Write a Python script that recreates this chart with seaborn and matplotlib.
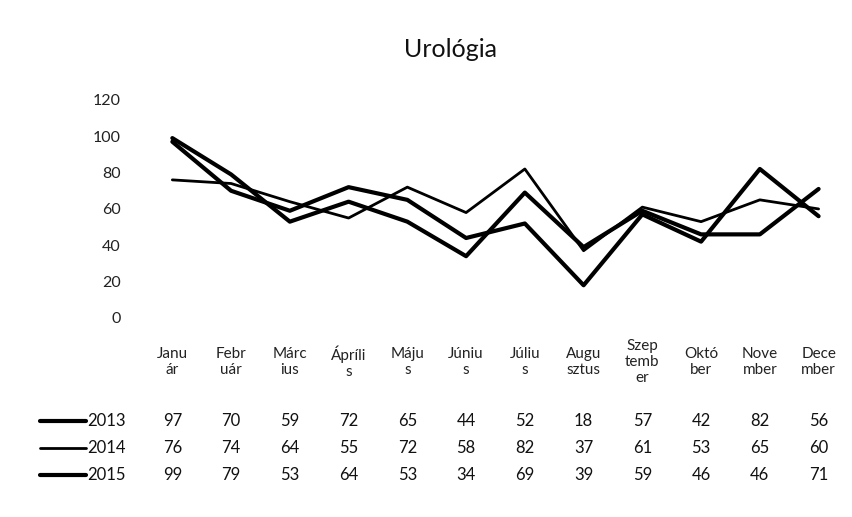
import matplotlib
matplotlib.use("Agg")
import matplotlib.pyplot as plt
import matplotlib.transforms as mtransforms
import seaborn as sns
import pandas as pd

months = ["Január", "Február", "Március", "Április", "Május", "Június",
          "Július", "Augusztus", "Szeptember", "Október", "November", "December"]
month_labels = ["Janu\nár", "Febr\nuár", "Márc\nius", "Ápríli\ns", "Máju\ns", "Júniu\ns",
                "Júliu\ns", "Augu\nsztus", "Szep\ntemb\ner", "Októ\nber", "Nove\nmber", "Dece\nmber"]
series_names = ["2013", "2014", "2015"]
v2013 = [97, 70, 59, 72, 65, 44, 52, 18, 57, 42, 82, 56]
v2014 = [76, 74, 64, 55, 72, 58, 82, 37, 61, 53, 65, 60]
v2015 = [99, 79, 53, 64, 53, 34, 69, 39, 59, 46, 46, 71]
y_ticks = [0, 20, 40, 60, 80, 100, 120]
title = "Urológia"

values = [v2013, v2014, v2015]
widths = [3.0, 2.0, 3.0]

sns.set_theme(style="white")
plt.rcParams['font.family'] = ['Lato', 'DejaVu Sans']

rows = []
for name, vals in zip(series_names, values):
    for i, (m, v) in enumerate(zip(months, vals)):
        rows.append({"pos": i, "month": m, "year": name, "value": v})
df = pd.DataFrame(rows)

fig = plt.figure(figsize=(8.53, 5.17), dpi=100)
ax = fig.add_axes([0.1676, 0.385, 0.8265, 0.4217])

for name, lw in zip(series_names, widths):
    sns.lineplot(data=df[df["year"] == name], x="pos", y="value", ax=ax,
                 color="black", linewidth=lw, legend=False)

ax.set_xlim(-0.5, len(months) - 0.5)
ax.set_ylim(0, 120)
ax.set_yticks(y_ticks)
ax.set_yticklabels([str(t) for t in y_ticks], fontsize=11.5, color="#222222")
ax.tick_params(axis='y', length=0, pad=16)
ax.set_xticks([])
ax.set_xlabel("")
ax.set_ylabel("")
for s in ax.spines.values():
    s.set_visible(False)

fig.text(0.528, 0.905, title, ha="center", va="center", fontsize=18, color="#111111")

# data table
blend = mtransforms.blended_transform_factory(ax.transData, fig.transFigure)
label_y = 1 - 362 / 517
for i, lab in enumerate(month_labels):
    ax.text(i, label_y, lab, transform=blend, ha="center", va="center",
            fontsize=11, color="#222222", linespacing=1.2)

row_ys = [1 - 421 / 517, 1 - 448 / 517, 1 - 475 / 517]
for name, vals, lw, ry in zip(series_names, values, widths, row_ys):
    for i, v in enumerate(vals):
        ax.text(i, ry, str(v), transform=blend, ha="center", va="center",
                fontsize=12, color="#111111")
    fig.add_artist(plt.Line2D([40 / 853, 86 / 853], [ry, ry], color="black",
                              linewidth=lw, transform=fig.transFigure))
    fig.text(87 / 853, ry, name, ha="left", va="center", fontsize=12, color="#111111")

fig.savefig("out.png", dpi=100)
